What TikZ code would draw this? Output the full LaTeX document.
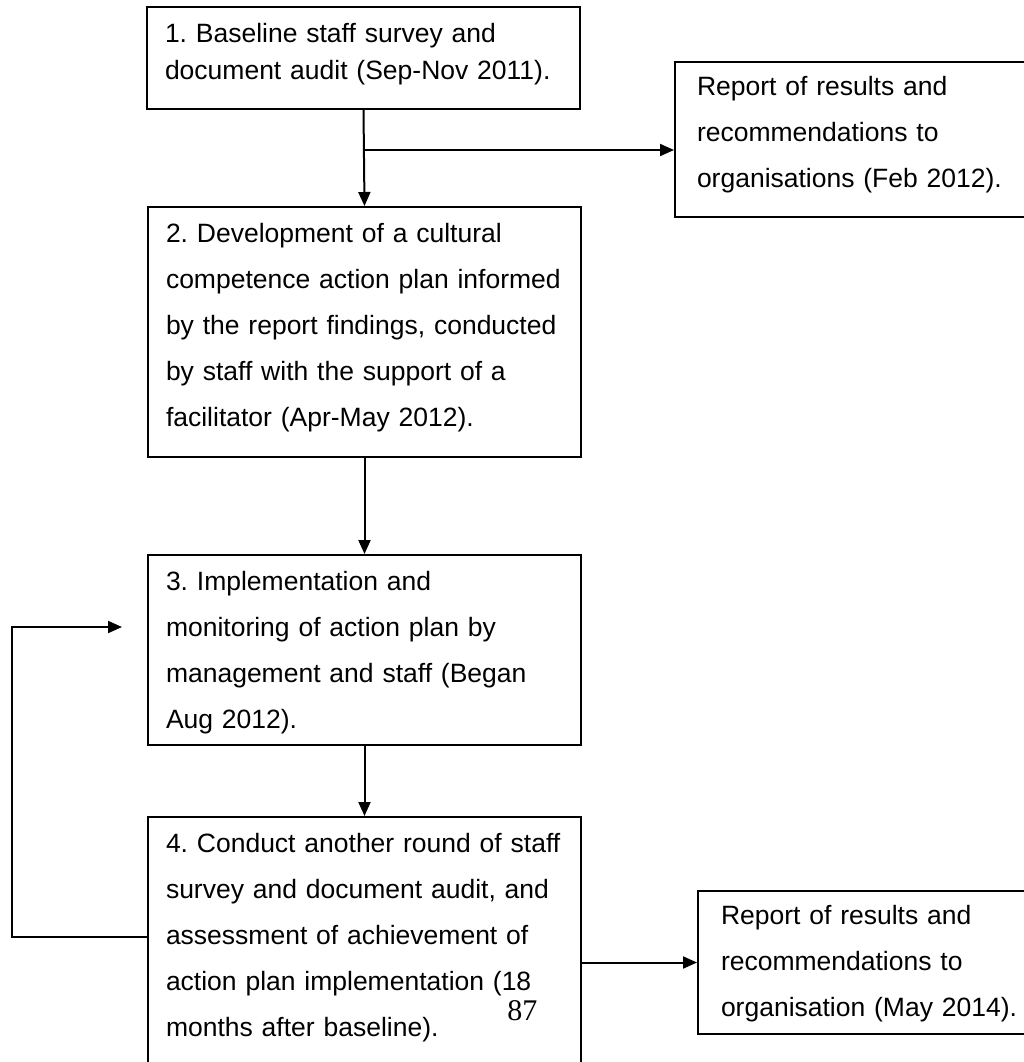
\documentclass[tikz,border=0pt]{standalone}
\usepackage{fontspec}
\setmainfont{Liberation Sans}
\newfontfamily\pagefont{Liberation Serif}
\frenchspacing
\usetikzlibrary{arrows.meta}
\tikzset{
  box/.style={
    rectangle, draw=black, line width=1pt, inner xsep=9pt, inner ysep=0pt,
    align=left, anchor=base west, text height=17.5pt,
    font=\fontsize{13.25}{23}\selectfont
  },
  stepbox/.style={box, text width=198.5pt},
  reportbox/.style={box, inner xsep=11pt, text height=16.5pt},
  arrow/.style={-{Triangle[length=7pt, width=6pt]}, line width=1pt},
}

\begin{document}
\begin{tikzpicture}[x=0.5pt, y=-0.5pt]

  \useasboundingbox (0,0) rectangle (1024,1062);
  \clip (0,0) rectangle (1024,1062);

  % Steps
  \node[stepbox, text depth=33.5pt, font=\fontsize{13.25}{18.5}\selectfont] (s1) at (146,42) {%
    1. Baseline staff survey and\\
    document audit (Sep-Nov 2011).
  };
  \node[stepbox, text depth=107.5pt] (s2) at (147,242) {%
    2. Development of a cultural\\
    competence action plan informed\\
    by the report findings, conducted\\
    by staff with the support of a\\
    facilitator (Apr-May 2012).
  };
  \node[stepbox, text depth=77.5pt] (s3) at (147,590) {%
    3. Implementation and\\
    monitoring of action plan by\\
    management and staff (Began\\
    Aug 2012).
  };
  \node[stepbox, text depth=120pt] (s4) at (147,852) {%
    4. Conduct another round of staff\\
    survey and document audit, and\\
    assessment of achievement of\\
    action plan implementation (18\\
    months after baseline).
  };

  % Reports
  \node[reportbox, text width=166pt, text depth=61pt] (r1) at (674,95) {%
    Report of results and\\
    recommendations to\\
    organisations (Feb 2012).
  };
  \node[reportbox, inner xsep=11.5pt, text width=153.5pt, text depth=55pt] (r2) at (697,924) {%
    Report of results and\\
    recommendations to\\
    organisation (May 2014).
  };

  % Page number
  \node[font=\pagefont\fontsize{15}{15}\selectfont, inner sep=0pt, anchor=base west]
    (pgnum) at (507,1020) {87};

  % Helper rows
  \coordinate (split) at (0,150);
  \coordinate (fbrow) at (0,937);
  \coordinate (fbin) at (122,627);

  % Main flow
  \draw[arrow] (s1.south) -- (s2.north);
  \draw[arrow] (s2.south) -- (s3.north);
  \draw[arrow] (s3.south) -- (s4.north);

  % Report arrows
  \draw[arrow] (s1.south |- split) -- (split -| r1.west);
  \draw[arrow] (s4.east |- r2) -- (r2.west);

  % Feedback loop
  \draw[arrow] (s4.west |- fbrow) -- ++(-135,0) |- (fbin);

\end{tikzpicture}
\end{document}
